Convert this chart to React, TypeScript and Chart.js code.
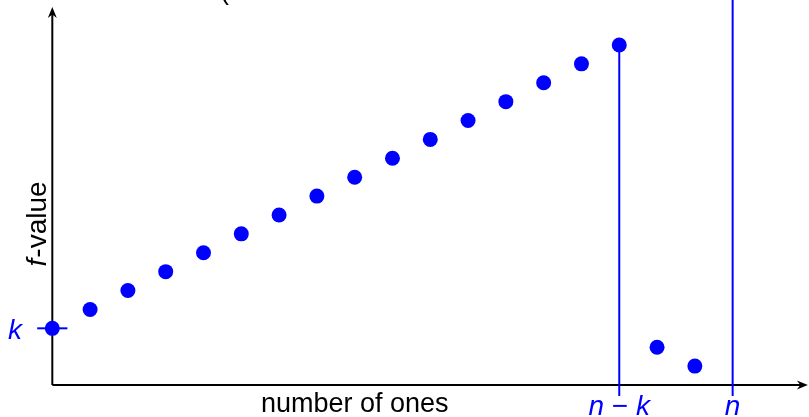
import React, { useEffect, useRef } from "react";
import { Chart, registerables } from "chart.js";

Chart.register(...registerables);

// ---- data ----
const onesCount = [0, 1, 2, 3, 4, 5, 6, 7, 8, 9, 10, 11, 12, 13, 14, 15, 16, 17];
const fValues = [3, 4, 5, 6, 7, 8, 9, 10, 11, 12, 13, 14, 15, 16, 17, 18, 2, 1];
const n = 18;
const k = 3;
const xAxisLabel = "number of ones";
const yAxisLabelItalic = "f";
const yAxisLabelRest = "-value";
const tickLabelNK = ["n", " \u2212 ", "k"];
const tickLabelN = "n";
const tickLabelK = "k";
const cutTitle = "(";

const BLUE = "#0000ff";
const FONT = "'Liberation Sans', Arial, sans-serif";

function arrow(ctx: CanvasRenderingContext2D, x: number, y: number, ang: number) {
  ctx.save();
  ctx.translate(x, y);
  ctx.rotate(ang);
  ctx.beginPath();
  ctx.moveTo(0, 0);
  ctx.lineTo(-11, -4.5);
  ctx.lineTo(-7.5, 0);
  ctx.lineTo(-11, 4.5);
  ctx.closePath();
  ctx.fillStyle = "#000";
  ctx.fill();
  ctx.restore();
}

const axesPlugin = {
  id: "axesPlugin",
  beforeDatasetsDraw(chart: any) {
    const ctx = chart.ctx as CanvasRenderingContext2D;
    const xs = chart.scales.x;
    const ys = chart.scales.y;
    const x0 = xs.getPixelForValue(0);
    const y0 = ys.getPixelForValue(0);
    const xEnd = xs.getPixelForValue(19.99);
    const yEnd = ys.getPixelForValue(20.01);
    ctx.save();
    ctx.strokeStyle = "#000";
    ctx.lineWidth = 2;
    ctx.beginPath();
    ctx.moveTo(x0, y0);
    ctx.lineTo(xEnd - 7, y0);
    ctx.moveTo(x0, y0);
    ctx.lineTo(x0, yEnd + 7);
    ctx.stroke();
    arrow(ctx, xEnd, y0, 0);
    arrow(ctx, x0, yEnd, -Math.PI / 2);
    ctx.restore();
  },
  afterDatasetsDraw(chart: any) {
    const ctx = chart.ctx as CanvasRenderingContext2D;
    const xs = chart.scales.x;
    const ys = chart.scales.y;
    ctx.save();
    // cut-off title fragment
    ctx.fillStyle = "#000";
    ctx.font = `27px ${FONT}`;
    ctx.textAlign = "left";
    ctx.textBaseline = "alphabetic";
    ctx.fillText(cutTitle, 220, -1);

    // x axis label
    ctx.textAlign = "center";
    ctx.fillText(xAxisLabel, xs.getPixelForValue(8), 412);

    // y axis label (rotated)
    ctx.save();
    ctx.translate(46, ys.getPixelForValue(8.5));
    ctx.rotate(-Math.PI / 2);
    ctx.textAlign = "left";
    ctx.font = `italic 28px ${FONT}`;
    const wF = ctx.measureText(yAxisLabelItalic).width;
    ctx.font = `28px ${FONT}`;
    const wR = ctx.measureText(yAxisLabelRest).width;
    const start = -(wF + wR) / 2;
    ctx.font = `italic 28px ${FONT}`;
    ctx.fillText(yAxisLabelItalic, start, 0);
    ctx.font = `28px ${FONT}`;
    ctx.fillText(yAxisLabelRest, start + wF + 1, 0);
    ctx.restore();

    // blue tick labels
    ctx.fillStyle = BLUE;
    ctx.textAlign = "left";
    const parts = tickLabelNK;
    const fonts = [`italic 28px ${FONT}`, `28px ${FONT}`, `italic 28px ${FONT}`];
    let total = 0;
    const widths: number[] = [];
    parts.forEach((p, i) => {
      ctx.font = fonts[i];
      const w = ctx.measureText(p).width;
      widths.push(w);
      total += w;
    });
    let px = xs.getPixelForValue(n - k) - total / 2;
    parts.forEach((p, i) => {
      ctx.font = fonts[i];
      ctx.fillText(p, px, 415);
      px += widths[i];
    });
    ctx.font = `italic 28px ${FONT}`;
    ctx.textAlign = "center";
    ctx.fillText(tickLabelN, xs.getPixelForValue(n), 415);
    ctx.fillText(tickLabelK, 15, ys.getPixelForValue(k) + 11);
    ctx.restore();
  },
};

export default function App() {
  const ref = useRef<HTMLCanvasElement | null>(null);
  useEffect(() => {
    if (!ref.current) return;
    const pts = onesCount.map((x, i) => ({ x, y: fValues[i] }));
    const chart = new Chart(ref.current, {
      type: "scatter",
      data: {
        datasets: [
          {
            data: pts,
            backgroundColor: BLUE,
            borderWidth: 0,
            pointRadius: 7.5,
            order: 0,
          } as any,
          {
            data: [
              { x: n - k, y: fValues[n - k] },
              { x: n - k, y: -0.58 },
            ],
            showLine: true,
            borderColor: BLUE,
            borderWidth: 2,
            pointRadius: 0,
            order: 1,
          },
          {
            data: [
              { x: n, y: 21 },
              { x: n, y: -0.58 },
            ],
            showLine: true,
            borderColor: BLUE,
            borderWidth: 2,
            pointRadius: 0,
            order: 1,
          },
          {
            data: [
              { x: -0.4, y: k },
              { x: 0.4, y: k },
            ],
            showLine: true,
            borderColor: BLUE,
            borderWidth: 2,
            pointRadius: 0,
            order: 1,
          },
        ],
      },
      options: {
        animation: false,
        responsive: false,
        events: [],
        layout: { padding: 0, autoPadding: false },
        plugins: { legend: { display: false }, tooltip: { enabled: false } },
        scales: {
          x: { type: "linear", display: false, min: -1.384, max: 20.02 },
          y: { type: "linear", display: false, min: -1.694, max: 20.38 },
        },
      },
      plugins: [axesPlugin],
    });
    return () => chart.destroy();
  }, []);
  return (
    <div style={{ position: "absolute", left: 0, top: 0, width: 809, height: 417, background: "#fff" }}>
      <canvas ref={ref} width={809} height={417} />
    </div>
  );
}
